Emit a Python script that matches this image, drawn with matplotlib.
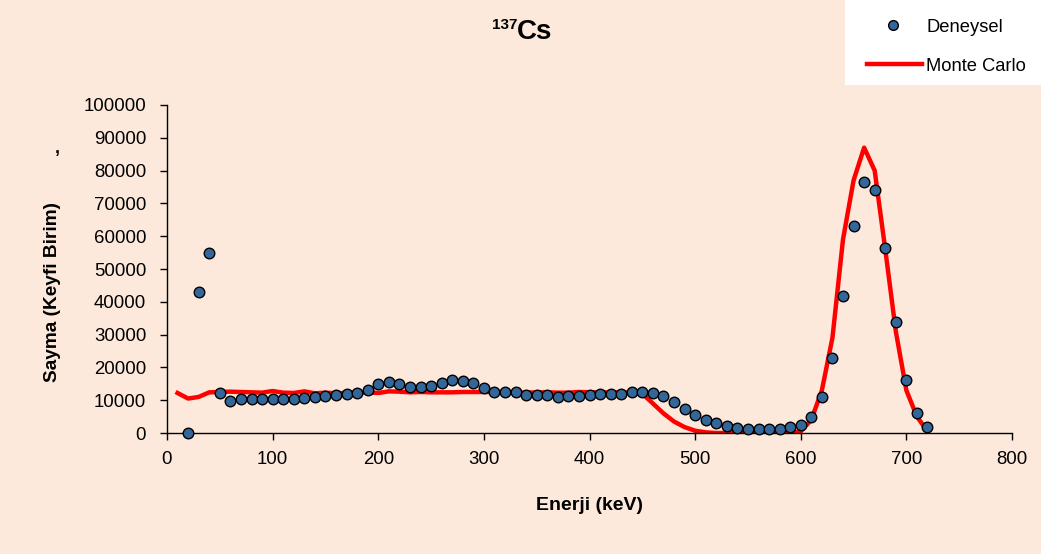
import matplotlib
matplotlib.use("Agg")
import matplotlib.pyplot as plt
from matplotlib.lines import Line2D
from matplotlib.patches import Rectangle

plt.rcParams['font.family'] = ['Liberation Sans', 'DejaVu Sans']

# Experimental data (Deneysel)
exp_energy = [20, 30, 40, 50, 60, 70, 80, 90, 100, 110, 120, 130, 140, 150, 160, 170, 180, 190,
              200, 210, 220, 230, 240, 250, 260, 270, 280, 290, 300, 310, 320, 330, 340, 350,
              360, 370, 380, 390, 400, 410, 420, 430, 440, 450, 460, 470, 480, 490, 500, 510,
              520, 530, 540, 550, 560, 570, 580, 590, 600, 610, 620, 630, 640, 650, 660, 670,
              680, 690, 700, 710, 720]
exp_counts = [0, 43000, 55000, 12200, 9800, 10500, 10500, 10500, 10500, 10300, 10500, 10700,
              11000, 11400, 11500, 12000, 12200, 13000, 14800, 15700, 15000, 14000, 14000, 14300,
              15200, 16100, 15900, 15100, 13800, 12600, 12400, 12400, 11500, 11500, 11500, 11100,
              11200, 11300, 11500, 11900, 11800, 12000, 12600, 12400, 12100, 11300, 9500, 7200,
              5500, 4000, 3000, 2200, 1600, 1300, 1100, 1100, 1300, 1700, 2400, 5000, 11100,
              23000, 41900, 63100, 76500, 74000, 56400, 33900, 16300, 6200, 1900]

# Monte Carlo simulation
mc_energy = [10, 20, 30, 40, 50, 60, 70, 80, 90, 100, 110, 120, 130, 140, 150, 160, 170, 180,
             190, 200, 210, 220, 230, 240, 250, 260, 270, 280, 290, 300, 310, 320, 330, 340,
             350, 360, 370, 380, 390, 400, 410, 420, 430, 440, 450, 460, 470, 480, 490, 500,
             510, 520, 530, 540, 550, 560, 570, 580, 590, 600, 610, 620, 630, 640, 650, 660,
             670, 680, 690, 700, 710, 720]
mc_counts = [12200, 10500, 11000, 12400, 12500, 12600, 12500, 12400, 12300, 12800, 12300,
             12200, 12700, 12100, 12300, 12100, 12200, 12300, 12400, 12200, 12700, 12600,
             12400, 12500, 12400, 12400, 12400, 12500, 12500, 12500, 12500, 12400, 12400,
             12300, 12400, 12400, 12300, 12300, 12500, 12400, 12400, 12400, 12400, 12300,
             12000, 9000, 6000, 3500, 1800, 700, 200, 0, 0, 0, 0, 0, 0, 0, 0, 500, 4000,
             13000, 29000, 59000, 77000, 87000, 80000, 56000, 31000, 13000, 5000, 500]

x_ticks = [0, 100, 200, 300, 400, 500, 600, 700, 800]
y_ticks = [0, 10000, 20000, 30000, 40000, 50000, 60000, 70000, 80000, 90000, 100000]
legend_labels = ['Deneysel', 'Monte Carlo']

W, H = 1041, 554
bg = '#FCE9DB'
marker_face = '#336699'
fig = plt.figure(figsize=(W / 100, H / 100), dpi=100, facecolor=bg)
ax = fig.add_axes([167 / W, 1 - 433 / H, (1012 - 167) / W, (433 - 105) / H])
ax.set_facecolor(bg)

ax.plot(mc_energy, mc_counts, color='#FF0000', lw=3.2, zorder=2)
ax.plot(exp_energy, exp_counts, linestyle='none', marker='o', markersize=7.6,
        markerfacecolor=marker_face, markeredgecolor='black', markeredgewidth=1.0,
        zorder=3, clip_on=False)

ax.set_xlim(0, 800)
ax.set_ylim(0, 100000)
ax.set_xticks(x_ticks)
ax.set_yticks(y_ticks)
ax.set_xticklabels([str(v) for v in x_ticks])
ax.set_yticklabels([str(v) for v in y_ticks])
ax.tick_params(axis='both', direction='out', length=5, width=1, labelsize=13.4, colors='black')
ax.tick_params(axis='x', pad=8)
ax.tick_params(axis='y', pad=10)
for s in ['top', 'right']:
    ax.spines[s].set_visible(False)
for s in ['left', 'bottom']:
    ax.spines[s].set_linewidth(1)
    ax.spines[s].set_color('black')

# Title: superscript mass number + element symbol
fig.text(517 / W, 1 - 32 / H, 'Cs', ha='left', va='center', fontsize=20, fontweight='bold')
fig.text(517 / W, 1 - 25 / H, '137', ha='right', va='center', fontsize=11, fontweight='bold')

fig.text(590 / W, 1 - 510 / H, 'Enerji (keV)', ha='center', va='baseline',
         fontsize=14, fontweight='bold')
fig.text(53 / W, 1 - 292 / H, 'Sayma (Keyfi Birim)', ha='center', va='center',
         fontsize=13.7, fontweight='bold', rotation=90)
fig.text(57 / W, 1 - 148 / H, ',', ha='center', va='center', fontsize=13, fontweight='bold')

# Legend box
fig.add_artist(Rectangle((845 / W, 1 - 85 / H), (W - 845) / W, 85 / H,
                         transform=fig.transFigure, facecolor='white', edgecolor='none',
                         zorder=1))
fig.add_artist(Line2D([893 / W], [1 - 25 / H], transform=fig.transFigure, linestyle='none',
                      marker='o', markersize=7.0, markerfacecolor=marker_face,
                      markeredgecolor='black', markeredgewidth=1.0, zorder=2))
fig.add_artist(Line2D([867 / W, 922 / W], [1 - 64 / H, 1 - 64 / H], transform=fig.transFigure,
                      color='#FF0000', lw=3.2, zorder=2))
fig.text(926 / W, 1 - 31.7 / H, legend_labels[0], ha='left', va='baseline', fontsize=13.2,
         zorder=3)
fig.text(926 / W, 1 - 70.7 / H, legend_labels[1], ha='left', va='baseline', fontsize=13.2,
         zorder=3)

fig.savefig('out.png', dpi=100, facecolor=bg)
